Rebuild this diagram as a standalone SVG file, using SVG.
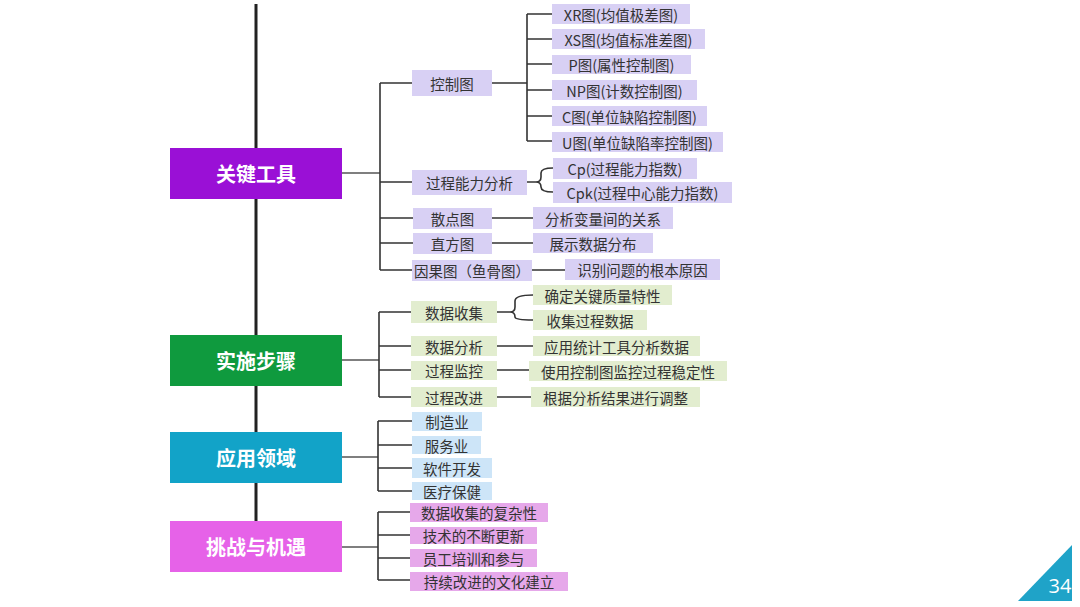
<svg xmlns="http://www.w3.org/2000/svg" width="1080" height="607" viewBox="0 0 1080 607">
<style>
.main{font-family:"Noto Sans CJK SC","Noto Sans",sans-serif;font-size:20px;font-weight:bold;fill:#fff;text-anchor:middle;dominant-baseline:central}
.t{font-family:"Noto Sans CJK SC","Noto Sans",sans-serif;font-size:14.5px;fill:#333;text-anchor:middle;dominant-baseline:central}
.pu{fill:#d8d0f4}.gr{fill:#e2edcf}.bl{fill:#cde5f8}.pk{fill:#e6a8ea}
.ln{fill:none;stroke:#333;stroke-width:1.6}
.lnl{fill:none;stroke:#555;stroke-width:1.4}
.spine{fill:none;stroke:#222;stroke-width:3}
</style>
<rect width="1080" height="607" fill="#fff"/>
<g id="connectors">
<line class="spine" x1="256" y1="4" x2="256" y2="521"/>
<path class="lnl" d="M342,173H380M342,360H379M342,457H378M342,547H378"/>
<path class="ln" d="M380,83V270M380,83H412M380,182H412M380,218H413M380,243H413M380,270H412"/>
<path class="ln" d="M492,83H527M527,14V141M527,14H552M527,39H552M527,64H552M527,90H552M527,116H552M527,141H552"/>
<path class="ln" d="M527,182H536Q541,182 541,177V173Q541,168 553,168M536,182Q541,182 541,187V187Q541,192 553,192"/>
<path class="ln" d="M492,218H533M492,243H533M532,270H565"/>
<path class="ln" d="M379,312V397M379,312H411M379,346H411M379,370H411M379,397H411"/>
<path class="ln" d="M497,312H510Q515,312 515,307V301Q515,295 533,295M510,312Q515,312 515,317V317Q515,320 533,320"/>
<path class="ln" d="M497,346H533M497,370H529M497,397H531"/>
<path class="ln" d="M378,421V491M378,421H412M378,445H412M378,468H412M378,491H412"/>
<path class="ln" d="M378,512V580M378,512H410M378,535H410M378,558H410M378,580H410"/>
</g>
<g id="n-tools"><rect x="170" y="148" width="172" height="51" fill="#9a10d6"/><text class="main" x="256" y="173.5">关键工具</text></g>
<g id="n-steps"><rect x="170" y="335" width="172" height="51" fill="#0f9a3e"/><text class="main" x="256" y="360.5">实施步骤</text></g>
<g id="n-fields"><rect x="170" y="432" width="172" height="51" fill="#12a3c8"/><text class="main" x="256" y="457.5">应用领域</text></g>
<g id="n-challenge"><rect x="170" y="521" width="172" height="51" fill="#e662e8"/><text class="main" x="256" y="546.5">挑战与机遇</text></g>

<g id="n-kzt"><rect class="pu" x="412" y="70" width="80" height="26"/><text class="t" x="452" y="83">控制图</text></g>
<g id="n-gcnl"><rect class="pu" x="412" y="170" width="115" height="25"/><text class="t" x="469.5" y="182.5">过程能力分析</text></g>
<g id="n-sdt"><rect class="pu" x="413" y="208" width="79" height="21"/><text class="t" x="452.5" y="218.5">散点图</text></g>
<g id="n-zft"><rect class="pu" x="413" y="233" width="79" height="21"/><text class="t" x="452.5" y="243.5">直方图</text></g>
<g id="n-ygt"><rect class="pu" x="412" y="260" width="120" height="21"/><text class="t" x="472" y="270.5">因果图（鱼骨图）</text></g>

<g id="n-xr"><rect class="pu" x="552" y="4" width="138" height="20"/><text class="t" x="621" y="14">XR图(均值极差图)</text></g>
<g id="n-xs"><rect class="pu" x="552" y="29" width="153" height="20"/><text class="t" x="628.5" y="39">XS图(均值标准差图)</text></g>
<g id="n-p"><rect class="pu" x="552" y="55" width="139" height="19"/><text class="t" x="621.5" y="64.5">P图(属性控制图)</text></g>
<g id="n-np"><rect class="pu" x="552" y="80" width="145" height="20"/><text class="t" x="624.5" y="90">NP图(计数控制图)</text></g>
<g id="n-c"><rect class="pu" x="552" y="106" width="155" height="20"/><text class="t" x="629.5" y="116">C图(单位缺陷控制图)</text></g>
<g id="n-u"><rect class="pu" x="552" y="132" width="171" height="20"/><text class="t" x="637.5" y="142">U图(单位缺陷率控制图)</text></g>
<g id="n-cp"><rect class="pu" x="553" y="158" width="144" height="21"/><text class="t" x="625" y="168.5">Cp(过程能力指数)</text></g>
<g id="n-cpk"><rect class="pu" x="553" y="182" width="179" height="21"/><text class="t" x="642.5" y="192.5">Cpk(过程中心能力指数)</text></g>
<g id="n-fxbl"><rect class="pu" x="533" y="207" width="140" height="22"/><text class="t" x="603" y="218">分析变量间的关系</text></g>
<g id="n-zssj"><rect class="pu" x="533" y="233" width="120" height="20"/><text class="t" x="593" y="243">展示数据分布</text></g>
<g id="n-sbwt"><rect class="pu" x="565" y="259" width="155" height="21"/><text class="t" x="642.5" y="269.5">识别问题的根本原因</text></g>

<g id="n-sjsj"><rect class="gr" x="411" y="301" width="86" height="22"/><text class="t" x="454" y="312">数据收集</text></g>
<g id="n-sjfx"><rect class="gr" x="411" y="336" width="86" height="20"/><text class="t" x="454" y="346">数据分析</text></g>
<g id="n-gcjk"><rect class="gr" x="411" y="361" width="86" height="19"/><text class="t" x="454" y="370.5">过程监控</text></g>
<g id="n-gcgj"><rect class="gr" x="411" y="387" width="86" height="20"/><text class="t" x="454" y="397">过程改进</text></g>
<g id="n-qdgj"><rect class="gr" x="533" y="285" width="139" height="20"/><text class="t" x="602.5" y="295">确定关键质量特性</text></g>
<g id="n-sjgc"><rect class="gr" x="533" y="310" width="114" height="20"/><text class="t" x="590" y="320">收集过程数据</text></g>
<g id="n-yytj"><rect class="gr" x="533" y="336" width="167" height="20"/><text class="t" x="616.5" y="346">应用统计工具分析数据</text></g>
<g id="n-sykz"><rect class="gr" x="529" y="361" width="198" height="20"/><text class="t" x="628" y="371">使用控制图监控过程稳定性</text></g>
<g id="n-gjfx"><rect class="gr" x="531" y="387" width="169" height="20"/><text class="t" x="615.5" y="397">根据分析结果进行调整</text></g>

<g id="n-zzy"><rect class="bl" x="412" y="412" width="70" height="19"/><text class="t" x="447" y="421.5">制造业</text></g>
<g id="n-fwy"><rect class="bl" x="412" y="436" width="69" height="18"/><text class="t" x="446.5" y="445">服务业</text></g>
<g id="n-rjkf"><rect class="bl" x="412" y="458" width="80" height="20"/><text class="t" x="452" y="468">软件开发</text></g>
<g id="n-ylbj"><rect class="bl" x="412" y="482" width="80" height="18"/><text class="t" x="452" y="491">医疗保健</text></g>

<g id="n-fzx"><rect class="pk" x="410" y="503" width="138" height="19"/><text class="t" x="479" y="512.5">数据收集的复杂性</text></g>
<g id="n-jsgx"><rect class="pk" x="410" y="527" width="127" height="17"/><text class="t" x="473.5" y="535.5">技术的不断更新</text></g>
<g id="n-ygpx"><rect class="pk" x="410" y="549" width="127" height="18"/><text class="t" x="473.5" y="558">员工培训和参与</text></g>
<g id="n-whjl"><rect class="pk" x="410" y="572" width="158" height="19"/><text class="t" x="489" y="581.5">持续改进的文化建立</text></g>

<g id="page"><polygon points="1072,545 1072,601 1018,601" fill="#1fa3c8"/><text x="1060" y="593" font-family="'Open Sans',sans-serif" font-size="20" fill="#fff" text-anchor="middle">34</text></g>
</svg>
